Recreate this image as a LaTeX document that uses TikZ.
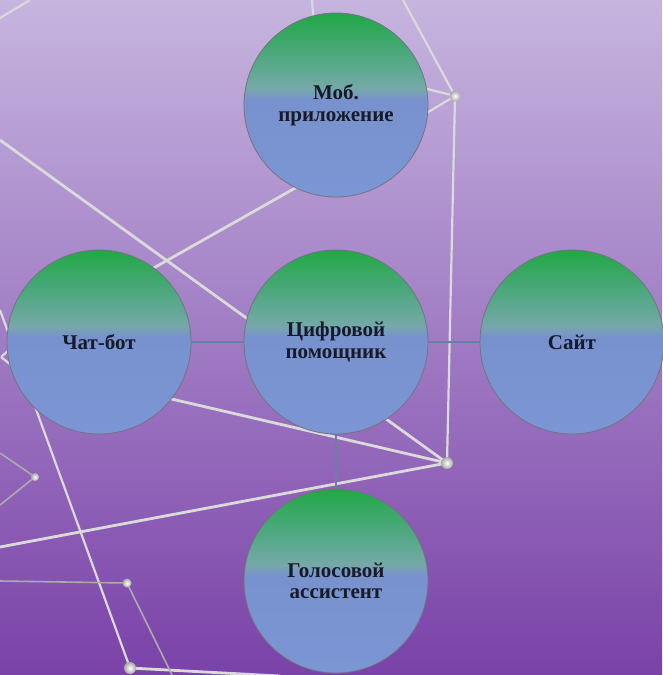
\documentclass[tikz,border=0pt]{standalone}
\usepackage{fontspec}
\setmainfont{Liberation Serif}
\definecolor{bgtop}{RGB}{198,181,223}
\definecolor{bgmid}{RGB}{158,118,198}
\definecolor{bgbot}{RGB}{122,66,168}
\definecolor{bgreen}{RGB}{34,168,70}
\definecolor{bgreen2}{RGB}{80,168,130}
\definecolor{bteal}{RGB}{118,168,168}
\definecolor{bblue1}{RGB}{120,146,206}
\definecolor{bblue2}{RGB}{123,150,212}
\definecolor{edgecol}{RGB}{115,115,130}
\definecolor{txtcol}{RGB}{22,26,42}
\definecolor{linkcol}{RGB}{110,125,165}
\definecolor{decocol}{RGB}{218,218,218}
\definecolor{decothincol}{RGB}{172,172,172}
\definecolor{dotout}{RGB}{168,168,168}
\pgfdeclareverticalshading{bubbleshade}{100bp}{color(0bp)=(bblue2); color(25bp)=(bblue2); color(51.5bp)=(bblue1); color(54.5bp)=(bteal); color(63bp)=(bgreen2); color(75bp)=(bgreen); color(100bp)=(bgreen)}
\pgfdeclarelayer{bg}
\pgfdeclarelayer{deco}
\pgfdeclarelayer{conn}
\pgfsetlayers{bg,deco,conn,main}
\tikzset{
  bubble/.style={circle, minimum size=184pt, inner sep=0pt, draw=edgecol, line width=0.8pt,
    shading=bubbleshade, text=txtcol, align=center,
    font=\fontsize{21}{21.5}\selectfont\bfseries},
  link/.style={draw=linkcol, line width=2pt},
  decoline/.style={draw=decocol, line width=2.8pt},
  decomid/.style={draw=decocol, line width=2.2pt},
  decothin/.style={draw=decothincol, line width=1.6pt},
  ballnode/.style={circle, inner sep=0pt, minimum size=#1, shading=radial, inner color=white, outer color=dotout, draw=none}
}
\begin{document}
\begin{tikzpicture}[x=1pt,y=-1pt]
\begin{pgfonlayer}{bg}
\shade[top color=bgtop, middle color=bgmid, bottom color=bgbot] (0,0) rectangle (662,675);
\end{pgfonlayer}
\useasboundingbox (0,0) rectangle (662,675);

% main nodes
\node[bubble] (mob) at (336,105) {Моб.\\приложение};
\node[bubble] (hub) at (336,342) {Цифровой\\помощник};
\node[bubble] (chat) at (99,342) {Чат-бот};
\node[bubble] (site) at (572,342) {Сайт};
\node[bubble] (voice) at (336,581) {Голосовой\\ассистент};

% decorative dots
\node[ballnode=11pt] (dA) at (455,96) {};
\node[ballnode=12pt] (dB) at (447,463) {};
\node[ballnode=12pt] (dC) at (130,668) {};
\node[ballnode=8pt] (dD) at (35,477) {};
\node[ballnode=9pt] (dE) at (127,583) {};

% free ends of decorative lines
\coordinate (t1a) at (0,18);
\coordinate (t1b) at (30,0);
\coordinate (l1) at (0,140);
\coordinate (l2) at (403,0);
\coordinate (m1) at (400,82);
\coordinate (m2) at (400,129);
\coordinate (mc1) at (320,174);
\coordinate (mc2) at (120,287);
\coordinate (tp1) at (312,0);
\coordinate (tp2) at (315,40);
\coordinate (cb) at (150,394);
\coordinate (l3) at (0,547);
\coordinate (l4) at (0,310);
\coordinate (l5) at (280,676);
\coordinate (k0) at (1,357);
\coordinate (k1) at (25,336);
\coordinate (k2) at (25,376);
\coordinate (g1) at (0,453);
\coordinate (g2) at (0,505);
\coordinate (g3) at (0,581);
\coordinate (g4) at (175,681);

\begin{pgfonlayer}{deco}
\draw[decomid] (t1a) -- (t1b);
\draw[decomid] (tp1) -- (tp2);
\draw[decomid] (l2) -- (dA.center);
\draw[decomid] (dA.center) -- (m1);
\draw[decomid] (dA.center) -- (m2);
\draw[decomid] (dA.center) -- (dB.center);
\draw[decoline] (mc1) -- (mc2);
\draw[decoline] (l1) -- (dB.center);
\draw[decoline] (cb) -- (dB.center);
\draw[decoline] (l3) -- (dB.center);
\draw[decomid] (l4) -- (dC.center);
\draw[decoline] (dC.center) -- (l5);
\draw[decomid] (k0) -- (k1);
\draw[decomid] (k0) -- (k2);
\draw[decothin] (g1) -- (dD.center) -- (g2);
\draw[decothin] (g3) -- (dE.center) -- (g4);
\end{pgfonlayer}

\begin{pgfonlayer}{conn}
\draw[link] (hub.west) -- (chat.east);
\draw[link] (hub.east) -- (site.west);
\draw[link] (hub.south) -- (voice.north);
\end{pgfonlayer}
\end{tikzpicture}
\end{document}
